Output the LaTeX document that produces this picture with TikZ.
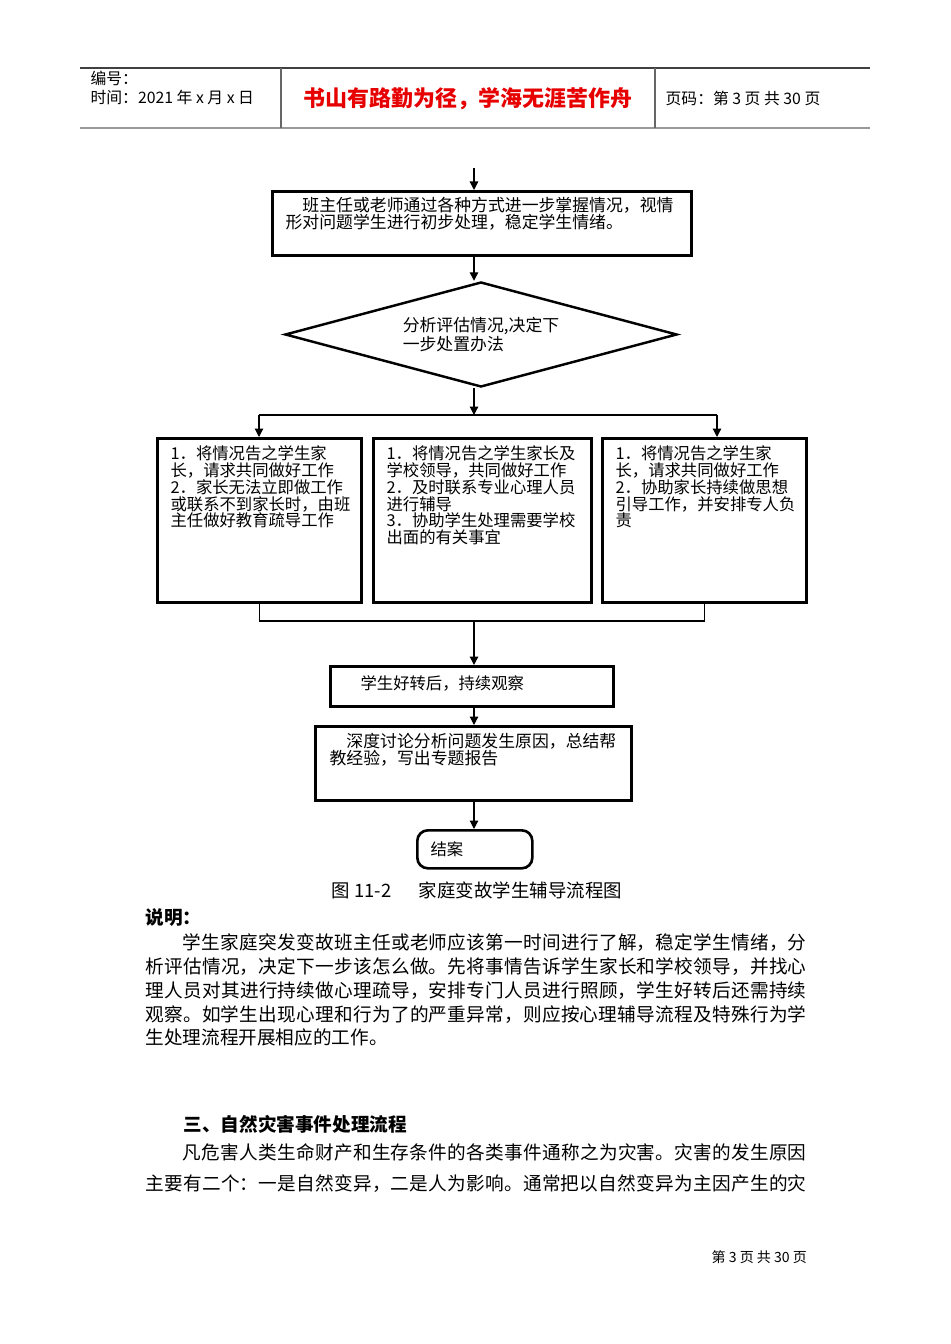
\documentclass[tikz,border=0pt]{standalone}
\usepackage{fontspec}
\setmainfont{Noto Sans CJK SC}
\usetikzlibrary{arrows.meta,shapes.geometric,positioning}
\XeTeXlinebreaklocale "zh"
\XeTeXlinebreakskip=0pt plus 1pt
\newlength\pxu \setlength\pxu{0.02cm}
\definecolor{mottored}{RGB}{230,0,0}
\newcommand\setfs[2]{\fontsize{#1}{#2}\selectfont}

\begin{document}
\begin{tikzpicture}[x=0.02cm, y=-0.02cm, line width=0.7pt,
  every node/.style={inner sep=0pt},
  procbox/.style={draw, line width=1.5pt, anchor=north west},
  decbox/.style={draw, diamond, shape aspect=3.7, line width=1.4pt, minimum width=392\pxu, minimum height=105\pxu, align=left, font=\setfs{9.6pt}{9.8pt}},
  boxtxt/.style={anchor=north west, align=left, font=\setfs{9.3pt}{9.5pt}},
  arr/.style={-{Triangle[length=1.7mm,width=1.7mm]}},
  hdtxt/.style={anchor=west, font=\setfs{9pt}{10pt}}]
  \useasboundingbox (0,0) rectangle (950,1344);
  % page header
  \draw[line width=0.8pt, black!75] (80,68) -- (870,68);
  \draw[line width=1.6pt, black!40] (80,128) -- (870,128);
  \draw[line width=0.6pt, black!60] (281,68) -- (281,128) (655,68) -- (655,128);
  \node[hdtxt] (hdnum) at (90,78) {编号：};
  \node[hdtxt] (hdtime) at (90,97) {时间：2021 年 x 月 x 日};
  \node[font=\setfs{12.5pt}{14pt}\bfseries, text=mottored] (motto) at (468,99) {书山有路勤为径，学海无涯苦作舟};
  \node[hdtxt] (hdpage) at (665,98) {页码：第 3 页 共 30 页};
  % flow chart
  \node[procbox, minimum width=419\pxu, minimum height=64\pxu] (b1) at (271,190) {};
  \node[boxtxt, font=\setfs{9.6pt}{9.7pt}] (b1txt) at ([shift={(14,7)}]b1.north west) {\hspace*{1em}班主任或老师通过各种方式进一步掌握情况，视情\\形对问题学生进行初步处理，稳定学生情绪。};
  \node[decbox] (d) at (481,334.5) {分析评估情况,决定下\\一步处置办法};
  \node[procbox, minimum width=204\pxu, minimum height=164\pxu] (L) at (156,437) {};
  \node[procbox, minimum width=218\pxu, minimum height=164\pxu] (M) at (372,437) {};
  \node[procbox, minimum width=204\pxu, minimum height=164\pxu] (R) at (601,437) {};
  \node[boxtxt] (Ltxt) at ([shift={(14,8.5)}]L.north west) {1．将情况告之学生家\\长，请求共同做好工作\\2．家长无法立即做工作\\或联系不到家长时，由班\\主任做好教育疏导工作};
  \node[boxtxt] (Mtxt) at ([shift={(14,8.5)}]M.north west) {1．将情况告之学生家长及\\学校领导，共同做好工作\\2．及时联系专业心理人员\\进行辅导\\3．协助学生处理需要学校\\出面的有关事宜};
  \node[boxtxt] (Rtxt) at ([shift={(14,8.5)}]R.north west) {1．将情况告之学生家\\长，请求共同做好工作\\2．协助家长持续做思想\\引导工作，并安排专人负\\责};
  \node[procbox, minimum width=283\pxu, minimum height=40\pxu] (o) at (329,665) {};
  \node[boxtxt, anchor=west] (otxt) at ([shift={(31,-3)}]o.west) {学生好转后，持续观察};
  \node[procbox, minimum width=316\pxu, minimum height=74\pxu] (s) at (314,725) {};
  \node[boxtxt, font=\setfs{9.6pt}{9.8pt}] (stxt) at ([shift={(15,7.3)}]s.north west) {\hspace*{1em}深度讨论分析问题发生原因，总结帮\\教经验，写出专题报告};
  \node[procbox, rounded corners=6pt, minimum width=115\pxu, minimum height=38\pxu] (e) at (416,829) {};
  \node[boxtxt, anchor=west] (etxt) at ([shift={(14,0)}]e.west) {结案};
  % connectors
  \coordinate (top) at (474,168);
  \coordinate (split) at (474,415);
  \coordinate (splitL) at (259,415);
  \coordinate (splitR) at (717,415);
  \coordinate (join) at (474,621);
  \draw[arr] (top) -- (top |- b1.north);
  \draw[arr] (top |- b1.south) -- (top |- d.north);
  \draw[arr] (top |- d.south) -- (split);
  \draw (splitL) -- (splitR);
  \draw[arr] (splitL) -- (splitL |- L.north);
  \draw[arr] (splitR) -- (splitR |- R.north);
  \draw (L.south) |- (join) -| (R.south);
  \draw[arr] (join) -- (join |- o.north);
  \draw[arr] (join |- o.south) -- (join |- s.north);
  \draw[arr] (join |- s.south) -- (join |- e.north);
  \node[anchor=west, font=\setfs{10.5pt}{12pt}] (cap) at (331,890) {图 11-2\hspace{1.5em}家庭变故学生辅导流程图};
  % text below the chart
  \node[anchor=west, font=\setfs{10.6pt}{13pt}\bfseries] (notehd) at (145,918) {说明：};
  \node[anchor=west, text width=661\pxu, align=justify, font=\setfs{10.6pt}{13.6pt}] (notepar) at (145,990) {\parindent=0pt\hspace*{2em}学生家庭突发变故班主任或老师应该第一时间进行了解，稳定学生情绪，分\linebreak 析评估情况，决定下一步该怎么做。先将事情告诉学生家长和学校领导，并找心\linebreak 理人员对其进行持续做心理疏导，安排专门人员进行照顾，学生好转后还需持续\linebreak 观察。如学生出现心理和行为了的严重异常，则应按心理辅导流程及特殊行为学\linebreak 生处理流程开展相应的工作。};
  \node[anchor=west, font=\setfs{10.6pt}{13pt}\bfseries] (sechd) at (183,1124) {三、自然灾害事件处理流程};
  \node[anchor=west, text width=661\pxu, align=justify, font=\setfs{10.6pt}{17.6pt}] (secpar) at (145,1168.5) {\parindent=0pt\parfillskip=0pt\hspace*{2em}凡危害人类生命财产和生存条件的各类事件通称之为灾害。灾害的发生原因\linebreak 主要有二个：一是自然变异，二是人为影响。通常把以自然变异为主因产生的灾\par};
  \node[anchor=west, font=\setfs{8pt}{10pt}] (foot) at (711,1257) {第 3 页 共 30 页};
\end{tikzpicture}
\end{document}
